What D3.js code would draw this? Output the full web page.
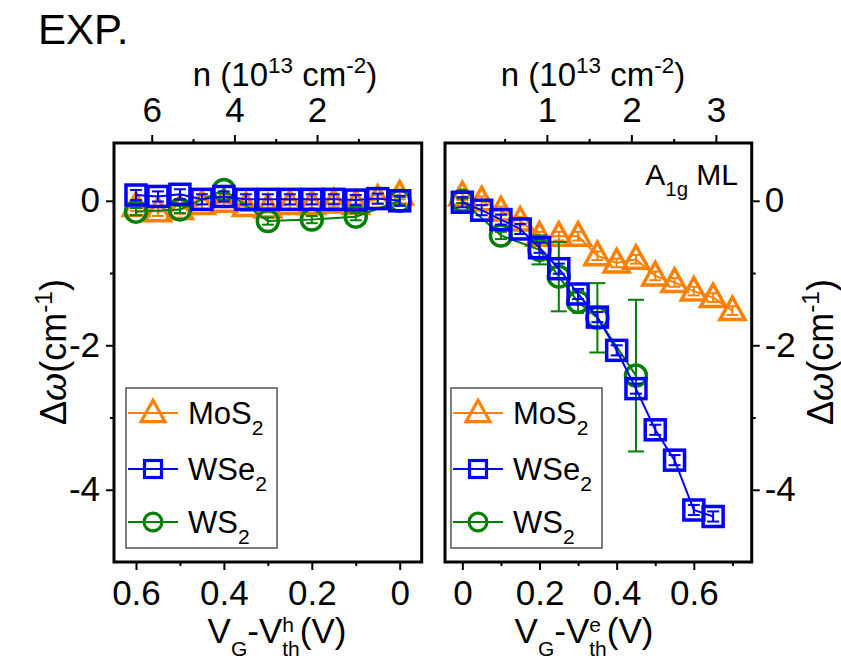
<!DOCTYPE html>
<html><head><meta charset="utf-8">
<script src="https://cdn.jsdelivr.net/npm/d3@7"></script>
<style>
body{margin:0;background:#fff}
svg{display:block}
text{font-family:"Liberation Sans",Arial,Helvetica,sans-serif;fill:#000;white-space:pre}
</style>
</head><body>
<svg id="chart" width="841" height="661"></svg>
<script>
// ---------------- DATA ----------------
const seriesNames = ["MoS2", "WSe2", "WS2"];
const seriesColors = ["#ff8000", "#0000ff", "#008000"];
const seriesShapes = ["triangle", "square", "circle"];

// hole side (left panel): x = VG - Vth^h (V)
const holeMoS2V   = [0.6, 0.55, 0.5, 0.45, 0.4, 0.35, 0.3, 0.25, 0.2, 0.15, 0.1, 0.05, 0];
const holeMoS2    = [-0.08, -0.15, -0.12, -0.05, -0.02, -0.08, -0.1, -0.05, -0.05, -0.03, -0.05, 0.02, 0.08];
const holeMoS2Err = [0.06, 0.06, 0.06, 0.06, 0.06, 0.06, 0.06, 0.06, 0.06, 0.06, 0.06, 0.06, 0.06];
const holeWSe2V   = [0.6, 0.55, 0.5, 0.45, 0.4, 0.35, 0.3, 0.25, 0.2, 0.15, 0.1, 0.05, 0];
const holeWSe2    = [0.08, 0.06, 0.09, 0.02, 0.06, 0.02, 0.02, 0.02, 0.02, 0.02, 0.01, 0.03, 0.0];
const holeWSe2Err = [0.07, 0.07, 0.07, 0.07, 0.07, 0.07, 0.07, 0.07, 0.07, 0.07, 0.07, 0.07, 0.07];
const holeWS2V    = [0.6, 0.5, 0.4, 0.3, 0.2, 0.1, 0];
const holeWS2     = [-0.15, -0.12, 0.15, -0.28, -0.26, -0.22, 0.0];
const holeWS2Err  = [0.05, 0.05, 0.05, 0.05, 0.05, 0.05, 0.05];

// electron side (right panel): x = VG - Vth^e (V)
const elecMoS2V   = [0, 0.05, 0.1, 0.15, 0.2, 0.25, 0.3, 0.35, 0.4, 0.45, 0.5, 0.55, 0.6, 0.65, 0.7];
const elecMoS2    = [0.07, 0.0, -0.14, -0.28, -0.49, -0.49, -0.49, -0.76, -0.86, -0.81, -1.04, -1.13, -1.25, -1.34, -1.52];
const elecMoS2Err = [0.06, 0.06, 0.06, 0.06, 0.06, 0.06, 0.06, 0.06, 0.06, 0.06, 0.06, 0.06, 0.06, 0.06, 0.06];
const elecWSe2V   = [0, 0.05, 0.1, 0.15, 0.2, 0.25, 0.3, 0.35, 0.4, 0.45, 0.5, 0.55, 0.6, 0.65];
const elecWSe2    = [-0.02, -0.13, -0.26, -0.39, -0.65, -0.94, -1.29, -1.61, -2.07, -2.6, -3.17, -3.59, -4.28, -4.37];
const elecWSe2Err = [0.07, 0.07, 0.07, 0.07, 0.07, 0.07, 0.07, 0.07, 0.07, 0.07, 0.07, 0.07, 0.07, 0.07];
const elecWS2V    = [0, 0.1, 0.2, 0.25, 0.3, 0.35, 0.45];
const elecWS2     = [0, -0.48, -0.68, -1.05, -1.4, -1.62, -2.42];
const elecWS2Err  = [0.03, 0.05, 0.2, 0.48, 0.15, 0.48, 1.05];

// carrier density conversion (10^13 cm^-2 per volt)
const nPerVoltHole = 10.635;
const nPerVoltElec = 4.565;

// ticks
const holeVTicks = [0.6, 0.4, 0.2, 0];
const holeVMinor = [0.5, 0.3, 0.1];
const elecVTicks = [0, 0.2, 0.4, 0.6];
const elecVMinor = [0.1, 0.3, 0.5, 0.7];
const holeNTicks = [6, 4, 2];
const holeNMinor = [5, 3, 1];
const elecNTicks = [1, 2, 3];
const elecNMinor = [0.5, 1.5, 2.5];
const yTicks = [0, -2, -4];
const yMinor = [-1, -3];

// ---------------- LAYOUT ----------------
const svg = d3.select("#chart");
const plotTop = 143, plotBottom = 562;
const L = {x0: 114, x1: 421.7};
const R = {x0: 445, x1: 751.7};
const y = d3.scaleLinear().domain([-5, 0.8]).range([plotBottom, plotTop]);
const xL = d3.scaleLinear().domain([0.65, -0.05]).range([L.x0, L.x1]);
const xR = d3.scaleLinear().domain([-0.045, 0.75]).range([R.x0, R.x1]);
const nL = d3.scaleLinear().domain([0.65 * nPerVoltHole, -0.05 * nPerVoltHole]).range([L.x0, L.x1]);
const nR = d3.scaleLinear().domain([-0.045 * nPerVoltElec, 0.75 * nPerVoltElec]).range([R.x0, R.x1]);

const FONT = "Liberation Sans, Arial, sans-serif";

// rich text helper (sub/sup/stacked) -> one <text> with positioned tspans
function rich(parent, runs, o) {
  const g = parent.append("g")
    .attr("transform", `translate(${o.x},${o.y})` + (o.rotate ? ` rotate(${o.rotate})` : ""));
  const laid = [];
  let cx = 0, stackW = null;
  const sc = o.smallScale || 0.68;
  runs.forEach(r => {
    const small = r.sub || r.sup;
    const fs = o.size * (small ? sc : 1);
    const dy = r.sub ? o.size * (o.subShift || 0.36) : r.sup ? -o.size * (o.supShift || 0.40) : 0;
    const tmp = g.append("text").attr("font-size", fs).attr("font-family", FONT)
      .style("white-space", "pre").attr("font-style", r.italic ? "italic" : "normal").text(r.t);
    const w = tmp.node().getComputedTextLength();
    tmp.remove();
    laid.push({t: r.t, x: cx, y: dy, fs: fs, italic: r.italic});
    if (r.stack) { stackW = w; }
    else if (stackW !== null) { cx += Math.max(w, stackW); stackW = null; }
    else cx += w;
  });
  const shift = o.anchor === "middle" ? -cx / 2 : o.anchor === "end" ? -cx : 0;
  const text = g.append("text").attr("font-family", FONT).attr("font-size", o.size)
    .attr("xml:space", "preserve").style("white-space", "pre");
  laid.forEach(d => {
    const ts = text.append("tspan").attr("x", d.x + shift).attr("y", d.y)
      .attr("font-size", d.fs).text(d.t);
    if (d.italic) ts.attr("font-style", "italic");
  });
  return g;
}

function styleAxis(g, fs) {
  g.select(".domain").remove();
  g.selectAll(".tick line").attr("stroke", "#000").attr("stroke-width", 2);
  g.selectAll(".tick text").attr("font-size", fs).attr("font-family", FONT).attr("fill", "#000");
}

function fmtV(d) { return d === 0 ? "0" : d3.format(".1f")(d); }

// ---------------- AXES ----------------
function panelAxes(xs, ns, x0, x1, vt, vm, nt, nm, side) {
  const gb = svg.append("g").attr("transform", `translate(0,${plotBottom})`);
  gb.call(d3.axisBottom(xs).tickValues(vt).tickSize(8).tickPadding(10).tickFormat(fmtV));
  styleAxis(gb, 35);
  const gbm = svg.append("g").attr("transform", `translate(0,${plotBottom})`);
  gbm.call(d3.axisBottom(xs).tickValues(vm).tickSize(4).tickFormat(""));
  styleAxis(gbm, 35);

  const gt = svg.append("g").attr("transform", `translate(0,${plotTop})`);
  gt.call(d3.axisTop(ns).tickValues(nt).tickSize(8).tickPadding(13).tickFormat(d3.format("d")));
  styleAxis(gt, 35);
  const gtm = svg.append("g").attr("transform", `translate(0,${plotTop})`);
  gtm.call(d3.axisTop(ns).tickValues(nm).tickSize(4).tickFormat(""));
  styleAxis(gtm, 35);

  const ax = side === "left" ? d3.axisLeft(y) : d3.axisRight(y);
  const axm = side === "left" ? d3.axisLeft(y) : d3.axisRight(y);
  const xpos = side === "left" ? x0 : x1;
  const gy = svg.append("g").attr("transform", `translate(${xpos},0)`);
  gy.call(ax.tickValues(yTicks).tickSize(8).tickPadding(side === "left" ? 6 : 5).tickFormat(d => String(d)));
  styleAxis(gy, 35);
  const gym = svg.append("g").attr("transform", `translate(${xpos},0)`);
  gym.call(axm.tickValues(yMinor).tickSize(4).tickFormat(""));
  styleAxis(gym, 35);

  svg.append("rect").attr("x", x0).attr("y", plotTop).attr("width", x1 - x0).attr("height", plotBottom - plotTop)
    .attr("fill", "none").attr("stroke", "#000").attr("stroke-width", 3);
}

// ---------------- MARKERS ----------------
function marker(g, shape, cx, cy, color, s, sw) {
  if (shape === "triangle") {
    g.append("path").attr("d", `M${cx},${cy - 13.5 * s}L${cx + 12.5 * s},${cy + 9 * s}L${cx - 12.5 * s},${cy + 9 * s}Z`)
      .attr("fill", "none").attr("stroke", color).attr("stroke-width", sw).attr("stroke-linejoin", "miter");
  } else if (shape === "square") {
    g.append("rect").attr("x", cx - 10 * s).attr("y", cy - 10 * s).attr("width", 20 * s).attr("height", 20 * s)
      .attr("fill", "none").attr("stroke", color).attr("stroke-width", sw);
  } else {
    g.append("circle").attr("cx", cx).attr("cy", cy).attr("r", 10.5 * s)
      .attr("fill", "none").attr("stroke", color).attr("stroke-width", sw);
  }
}

function drawSeries(xs, xv, yv, ev, idx) {
  const color = seriesColors[idx], shape = seriesShapes[idx];
  const pts = xv.map((v, i) => ({x: v, y: yv[i], e: ev[i]}));
  const g = svg.append("g");
  g.append("path").datum(pts)
    .attr("d", d3.line().x(d => xs(d.x)).y(d => y(d.y)))
    .attr("fill", "none").attr("stroke", color).attr("stroke-width", 2);
  pts.forEach(d => {
    const cx = xs(d.x), y1 = y(d.y + d.e), y2 = y(d.y - d.e);
    const cw = d.e > 0.15 ? 8 : 6;
    g.append("line").attr("x1", cx).attr("x2", cx).attr("y1", y1).attr("y2", y2)
      .attr("stroke", color).attr("stroke-width", 2);
    [y1, y2].forEach(yy => g.append("line").attr("x1", cx - cw).attr("x2", cx + cw)
      .attr("y1", yy).attr("y2", yy).attr("stroke", color).attr("stroke-width", 2));
  });
  pts.forEach(d => marker(g, shape, xs(d.x), y(d.y), color, 1, 3.5));
}

function legend(x0, y0) {
  svg.append("rect").attr("x", x0).attr("y", y0).attr("width", 151).attr("height", 160)
    .attr("fill", "#fff").attr("stroke", "#555").attr("stroke-width", 1.5);
  const rows = [25, 81, 134];
  seriesNames.forEach((name, i) => {
    const yy = y0 + rows[i];
    svg.append("line").attr("x1", x0 + 2).attr("x2", x0 + 52).attr("y1", yy).attr("y2", yy)
      .attr("stroke", seriesColors[i]).attr("stroke-width", 2);
    const g = svg.append("g");
    marker(g, seriesShapes[i], x0 + 27, yy, seriesColors[i], i === 0 ? 0.95 : 0.85, 3.2);
    rich(svg, [{t: name.slice(0, -1)}, {t: "2", sub: true}], {x: x0 + 62, y: yy + 11, size: 31, anchor: "start"});
  });
}

// ---------------- DRAW ----------------
panelAxes(xL, nL, L.x0, L.x1, holeVTicks, holeVMinor, holeNTicks, holeNMinor, "left");
panelAxes(xR, nR, R.x0, R.x1, elecVTicks, elecVMinor, elecNTicks, elecNMinor, "right");

drawSeries(xL, holeMoS2V, holeMoS2, holeMoS2Err, 0);
drawSeries(xL, holeWS2V, holeWS2, holeWS2Err, 2);
drawSeries(xL, holeWSe2V, holeWSe2, holeWSe2Err, 1);

drawSeries(xR, elecMoS2V, elecMoS2, elecMoS2Err, 0);
drawSeries(xR, elecWS2V, elecWS2, elecWS2Err, 2);
drawSeries(xR, elecWSe2V, elecWSe2, elecWSe2Err, 1);

legend(126, 388);
legend(451, 388);

// titles
svg.append("text").attr("x", 38).attr("y", 44).attr("font-size", 42).attr("font-family", FONT).text("EXP.");

const nTitle = [{t: "n (10"}, {t: "13", sup: true}, {t: " cm"}, {t: "-2", sup: true}, {t: ")"}];
rich(svg, nTitle, {x: 285, y: 86, size: 33, anchor: "middle"});
rich(svg, nTitle, {x: 593, y: 86, size: 33, anchor: "middle"});

const vOpts = {y: 642.5, size: 35, anchor: "middle", supShift: 0.3, subShift: 0.39, smallScale: 0.6};
rich(svg, [{t: "V"}, {t: "G", sub: true}, {t: "-V"}, {t: "h", sup: true, stack: true}, {t: "th", sub: true}, {t: "(V)"}],
  Object.assign({x: 277}, vOpts));
rich(svg, [{t: "V"}, {t: "G", sub: true}, {t: "-V"}, {t: "e", sup: true, stack: true}, {t: "th", sub: true}, {t: "(V)"}],
  Object.assign({x: 584}, vOpts));

const yTitle = [{t: "Δ"}, {t: "ω", italic: true}, {t: "(cm"}, {t: "-1", sup: true}, {t: ")"}];
rich(svg, yTitle, {x: 66, y: 352, size: 36, anchor: "middle", rotate: -90});
rich(svg, yTitle, {x: 833, y: 352, size: 36, anchor: "middle", rotate: -90});

rich(svg, [{t: "A"}, {t: "1g", sub: true}, {t: " ML"}], {x: 738, y: 185, size: 30, anchor: "end"});
</script>
</body></html>
